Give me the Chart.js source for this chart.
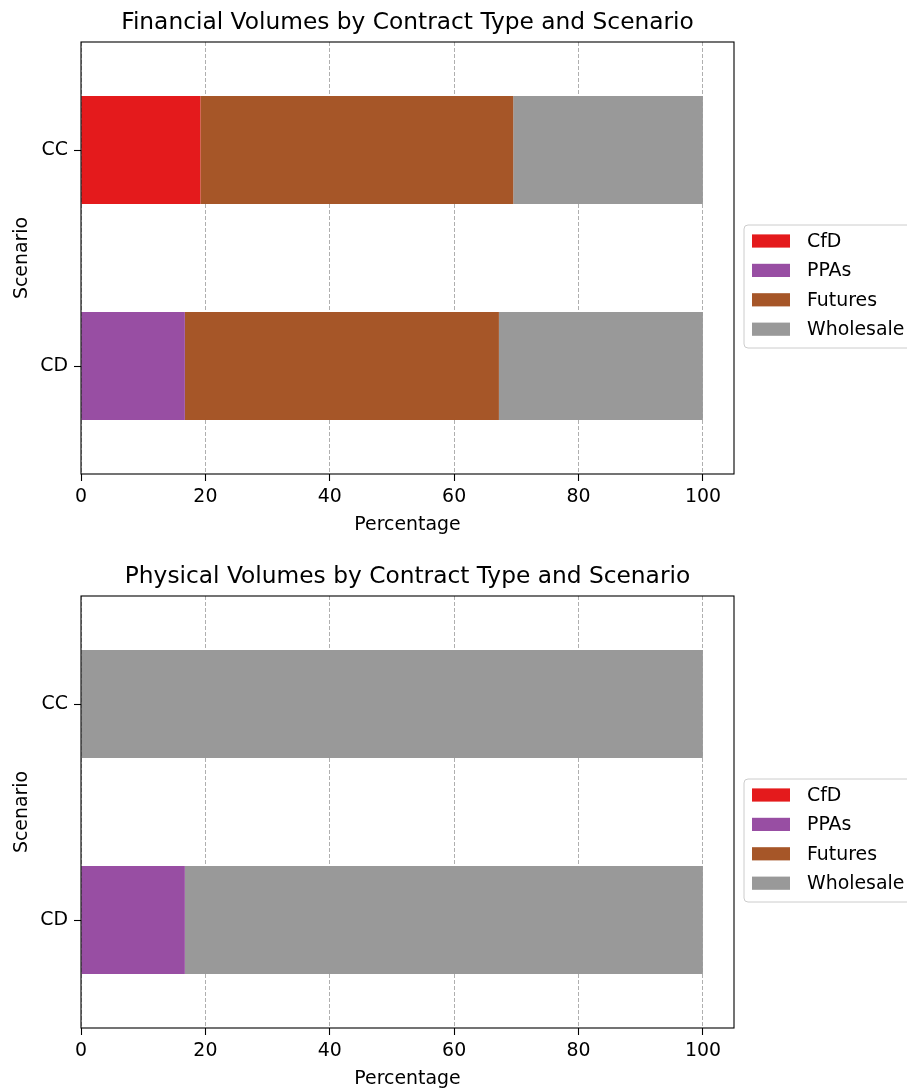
<!DOCTYPE html>
<html>
<head>
<meta charset="utf-8">
<script src="https://cdn.jsdelivr.net/npm/chart.js@4"></script>
<style>
  html, body { margin: 0; padding: 0; background: #fff; overflow: hidden; }
  #wrap { position: relative; width: 907px; height: 1089px; overflow: hidden; }
  canvas { position: absolute; left: 0; }
  #financial { top: 0; }
  #physical { top: 554px; }
</style>
</head>
<body>
<div id="wrap">
  <canvas id="financial" width="907" height="554"></canvas>
  <canvas id="physical" width="907" height="554"></canvas>
</div>
<script>
// Scenarios (top to bottom) and contract types (stacking order)
const scenarios = ['CC', 'CD'];
const contractTypes = ['CfD', 'PPAs', 'Futures', 'Wholesale'];
const contractColors = ['#e41a1c', '#984ea3', '#a65628', '#999999'];

// Financial volume shares (%), one value per scenario
const financialCfD = [19.2, 0];
const financialPPAs = [0, 16.7];
const financialFutures = [50.3, 50.5];
const financialWholesale = [30.5, 32.8];

// Physical volume shares (%), one value per scenario
const physicalCfD = [0, 0];
const physicalPPAs = [0, 16.7];
const physicalFutures = [0, 0];
const physicalWholesale = [100, 83.3];

const xTicks = [0, 20, 40, 60, 80, 100];

const FONT = 'DejaVu Sans';
const TICK_SIZE = 18.9;
const TITLE_SIZE = 23.3;

Chart.defaults.color = '#000';
Chart.defaults.font.family = FONT;

// Full axes frame plus a boxed legend to the right of the plot
const frameAndLegend = {
  id: 'frameAndLegend',
  afterDraw(chart) {
    const { ctx, chartArea: a } = chart;
    ctx.save();
    ctx.strokeStyle = '#000';
    ctx.lineWidth = 1.1;
    ctx.strokeRect(a.left, a.top, a.right - a.left, a.bottom - a.top);

    const bx = a.right + 10, by = a.top + 183, bw = 180, bh = 123, r = 4;
    ctx.beginPath();
    ctx.moveTo(bx + r, by);
    ctx.lineTo(bx + bw - r, by);
    ctx.arcTo(bx + bw, by, bx + bw, by + r, r);
    ctx.lineTo(bx + bw, by + bh - r);
    ctx.arcTo(bx + bw, by + bh, bx + bw - r, by + bh, r);
    ctx.lineTo(bx + r, by + bh);
    ctx.arcTo(bx, by + bh, bx, by + bh - r, r);
    ctx.lineTo(bx, by + r);
    ctx.arcTo(bx, by, bx + r, by, r);
    ctx.closePath();
    ctx.fillStyle = 'rgba(255,255,255,0.8)';
    ctx.fill();
    ctx.strokeStyle = '#cccccc';
    ctx.lineWidth = 1;
    ctx.stroke();

    ctx.font = TICK_SIZE + 'px "' + FONT + '"';
    ctx.textBaseline = 'middle';
    ctx.textAlign = 'left';
    chart.data.datasets.forEach((ds, i) => {
      const cy = by + 16 + i * 29.4;
      ctx.fillStyle = ds.backgroundColor;
      ctx.fillRect(bx + 8, cy - 6.6, 38, 13.2);
      ctx.fillStyle = '#000';
      ctx.fillText(ds.label, bx + 63, cy + 1);
    });
    ctx.restore();
  }
};

function makeChart(id, title, series) {
  return new Chart(document.getElementById(id), {
    type: 'bar',
    data: {
      labels: scenarios,
      datasets: contractTypes.map((name, i) => ({
        label: name,
        data: series[i],
        backgroundColor: contractColors[i],
        borderWidth: 0,
        barPercentage: 0.5,
        categoryPercentage: 1.0
      }))
    },
    options: {
      indexAxis: 'y',
      responsive: false,
      animation: false,
      devicePixelRatio: 1,
      layout: { padding: { left: 0, top: 0, right: 173, bottom: 0 } },
      plugins: {
        legend: { display: false },
        tooltip: { enabled: false },
        title: {
          display: true,
          text: title,
          fullSize: false,
          color: '#000',
          font: { family: FONT, size: TITLE_SIZE, weight: 'normal' },
          padding: { top: 9.4, bottom: 4.64 }
        }
      },
      scales: {
        x: {
          type: 'linear',
          stacked: true,
          min: 0,
          max: 105,
          afterBuildTicks: (s) => { s.ticks = xTicks.map(v => ({ value: v })); },
          afterFit: (s) => { s.height = 80; },
          border: { display: false, dash: [4, 2] },
          grid: {
            color: '#9a9a9a',
            lineWidth: 0.8,
            tickColor: '#000',
            tickWidth: 1.1,
            tickLength: 7,
            tickBorderDash: []
          },
          ticks: { font: { size: TICK_SIZE }, padding: 5, maxRotation: 0 },
          title: {
            display: true,
            text: 'Percentage',
            font: { size: TICK_SIZE },
            padding: { top: 0, bottom: 17.6 }
          }
        },
        y: {
          stacked: true,
          afterFit: (s) => { s.width = 81; },
          border: { display: false },
          grid: {
            offset: false,
            drawOnChartArea: false,
            tickColor: '#000',
            tickWidth: 1.1,
            tickLength: 7
          },
          ticks: { font: { size: TICK_SIZE }, padding: 6 },
          title: {
            display: true,
            text: 'Scenario',
            font: { size: TICK_SIZE },
            padding: { top: 11, bottom: 0 }
          }
        }
      }
    },
    plugins: [frameAndLegend]
  });
}

makeChart('financial', 'Financial Volumes by Contract Type and Scenario',
  [financialCfD, financialPPAs, financialFutures, financialWholesale]);
makeChart('physical', 'Physical Volumes by Contract Type and Scenario',
  [physicalCfD, physicalPPAs, physicalFutures, physicalWholesale]);
</script>
</body>
</html>
